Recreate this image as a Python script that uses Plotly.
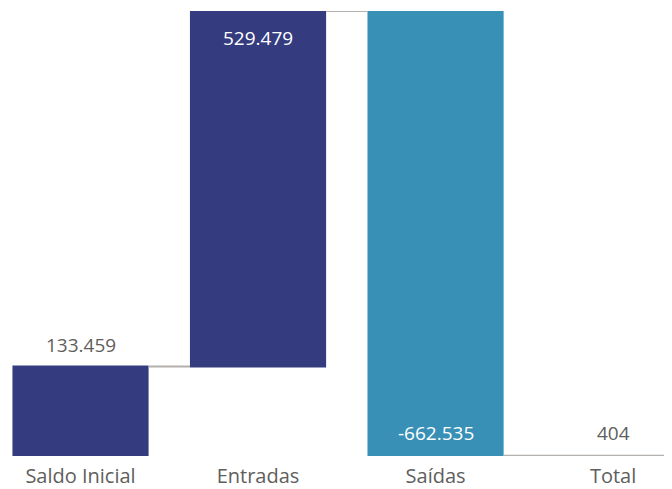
import plotly.graph_objects as go

categories = ["Saldo Inicial", "Entradas", "Saídas", "Total"]
measures = ["relative", "relative", "relative", "absolute"]
values = [133459, 529479, -662535, 404]
labels = ["133.459", "529.479", "-662.535", "404"]

# running totals (bar ends) computed from the data
ends = []
run = 0
for m, v in zip(measures, values):
    run = v if m == "absolute" else run + v
    ends.append(run)
starts = [0] + ends[:-1]
starts[-1] = 0
top = max(max(ends), max(starts))

fig = go.Figure(go.Waterfall(
    x=categories,
    y=values,
    measure=measures,
    textposition="none",
    increasing=dict(marker=dict(color="#343C7F")),
    decreasing=dict(marker=dict(color="#3890B6")),
    totals=dict(marker=dict(color="#B3B0AD")),
    connector=dict(line=dict(color="#B3B0AD", width=2)),
    cliponaxis=False,
))

# label placement: above / inside-top / inside-bottom / above
for i, (c, lab) in enumerate(zip(categories, labels)):
    hi = max(starts[i], ends[i])
    lo = min(starts[i], ends[i])
    if i == 0:
        fig.add_annotation(x=c, y=hi, text=lab, showarrow=False, yanchor="bottom",
                           yshift=6, font=dict(color="#605E5C", size=19))
    elif i == 1:
        fig.add_annotation(x=c, y=hi, text=lab, showarrow=False, yanchor="top",
                           yshift=-12, font=dict(color="white", size=19))
    elif i == 2:
        fig.add_annotation(x=c, y=lo, text=lab, showarrow=False, yanchor="bottom",
                           yshift=8, font=dict(color="white", size=19))
    else:
        fig.add_annotation(x=c, y=hi, text=lab, showarrow=False, yanchor="bottom",
                           yshift=8, font=dict(color="#605E5C", size=19))

fig.update_layout(
    width=664, height=481,
    margin=dict(l=0, r=0, t=3, b=28),
    paper_bgcolor="white", plot_bgcolor="white",
    showlegend=False,
    waterfallgap=0.233,
    font=dict(family="Open Sans", color="#605E5C", size=19),
    xaxis=dict(range=[-0.4085, 3.332], showgrid=False, zeroline=False,
               showline=False, ticks="", ticklabelstandoff=6,
               tickfont=dict(size=20, color="#605E5C")),
    yaxis=dict(range=[0, top], visible=False, showgrid=False, zeroline=False),
)

fig.write_html("out.html")
